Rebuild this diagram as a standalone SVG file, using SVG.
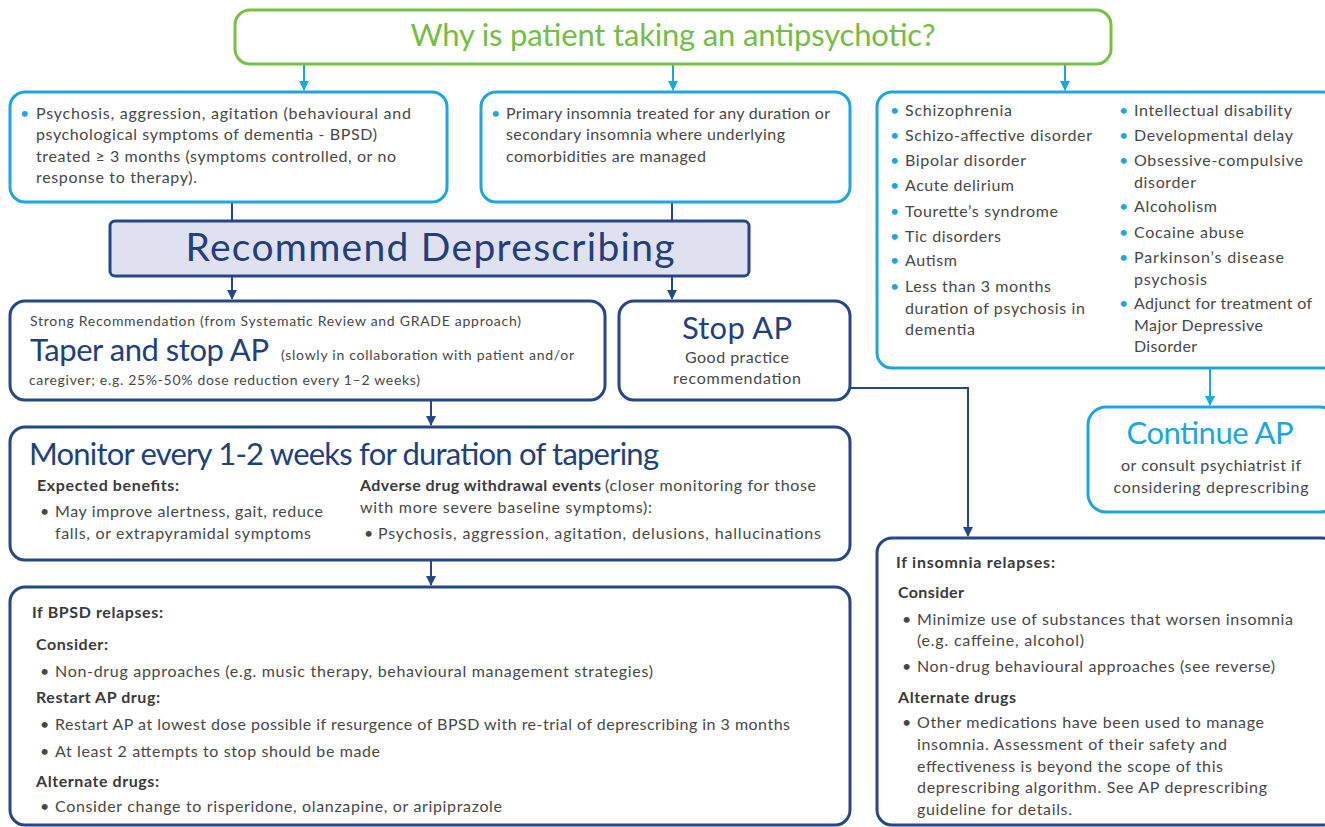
<svg xmlns="http://www.w3.org/2000/svg" width="1325" height="827" viewBox="0 0 1325 827">
<defs>
<marker id="ab" viewBox="0 0 10 10" refX="9" refY="5" markerWidth="10" markerHeight="10" markerUnits="userSpaceOnUse" orient="auto"><path d="M0,0 L10,5 L0,10 z" fill="#1ea5dc"/></marker>
<marker id="ad" viewBox="0 0 10 10" refX="9" refY="5" markerWidth="10" markerHeight="10" markerUnits="userSpaceOnUse" orient="auto"><path d="M0,0 L10,5 L0,10 z" fill="#264785"/></marker>
</defs>
<style>
text{font-family:Lato,"Liberation Sans",sans-serif;fill:#474747;font-size:16px}
.g{fill:none;stroke:#78c043;stroke-width:3}
.lb{fill:#fff;stroke:#1ea5dc;stroke-width:3}
.db{fill:#fff;stroke:#264785;stroke-width:3}
.rd{fill:#dfe1ef;stroke:#264785;stroke-width:3}
.cl{fill:none;stroke:#1ea5dc;stroke-width:2}
.cd{fill:none;stroke:#264785;stroke-width:2}
.bl{fill:#1ea5dc}
.h{fill:#223f7c}
.b{font-weight:bold;fill:#3a3a3a}
.s{font-size:14px}
</style>
<rect width="1325" height="827" fill="#fff"/>
<g id="connectors">
<path class="cl" d="M304,65 V90" marker-end="url(#ab)"/>
<path class="cl" d="M673,65 V90" marker-end="url(#ab)"/>
<path class="cl" d="M1065,65 V90" marker-end="url(#ab)"/>
<path class="cl" d="M1210,369 V405" marker-end="url(#ab)"/>
<path class="cd" d="M232,203 V221"/>
<path class="cd" d="M672,203 V221"/>
<path class="cd" d="M232,277 V299" marker-end="url(#ad)"/>
<path class="cd" d="M672,277 V299" marker-end="url(#ad)"/>
<path class="cd" d="M431,401 V425" marker-end="url(#ad)"/>
<path class="cd" d="M431,561 V585" marker-end="url(#ad)"/>
<path class="cd" d="M851,388 H968 V536" marker-end="url(#ad)"/>
</g>
<g id="question">
<rect class="g" x="235" y="10" width="876" height="54" rx="15"/>
<text x="673" y="46" text-anchor="middle" style="font-size:31px;fill:#74bd45" textLength="525">Why is patient taking an antipsychotic?</text>
</g>
<g id="bpsd-indication">
<rect class="lb" x="10" y="92" width="437" height="110" rx="15"/>
<text class="bl" x="20" y="119">•</text>
<text x="36" y="119" textLength="375">Psychosis, aggression, agitation (behavioural and</text>
<text x="36" y="140" textLength="341">psychological symptoms of dementia - BPSD)</text>
<text x="36" y="162" textLength="360">treated ≥ 3 months (symptoms controlled, or no</text>
<text x="36" y="183" textLength="161">response to therapy).</text>
</g>
<g id="insomnia-indication">
<rect class="lb" x="481" y="92" width="369" height="110" rx="15"/>
<text class="bl" x="491" y="119">•</text>
<text x="506" y="119" textLength="324">Primary insomnia treated for any duration or</text>
<text x="506" y="140" textLength="279">secondary insomnia where underlying</text>
<text x="506" y="162" textLength="200">comorbidities are managed</text>
</g>
<g id="other-indications">
<rect class="lb" x="877" y="92" width="460" height="276" rx="15"/>
<text class="bl" x="890" y="116">•</text><text class="bl" x="890" y="141">•</text><text class="bl" x="890" y="166">•</text><text class="bl" x="890" y="191">•</text><text class="bl" x="890" y="217">•</text><text class="bl" x="890" y="242">•</text><text class="bl" x="890" y="266">•</text><text class="bl" x="890" y="292">•</text>
<text class="bl" x="1119" y="116">•</text><text class="bl" x="1119" y="141">•</text><text class="bl" x="1119" y="166">•</text><text class="bl" x="1119" y="212">•</text><text class="bl" x="1119" y="238">•</text><text class="bl" x="1119" y="263">•</text><text class="bl" x="1119" y="309">•</text>
<text x="905" y="116" textLength="107">Schizophrenia</text>
<text x="905" y="141" textLength="187">Schizo-affective disorder</text>
<text x="905" y="166" textLength="121">Bipolar disorder</text>
<text x="905" y="191" textLength="109">Acute delirium</text>
<text x="905" y="217" textLength="153">Tourette’s syndrome</text>
<text x="905" y="242" textLength="96">Tic disorders</text>
<text x="905" y="266" textLength="52">Autism</text>
<text x="905" y="292" textLength="146">Less than 3 months</text>
<text x="905" y="314" textLength="180">duration of psychosis in</text>
<text x="905" y="335" textLength="70">dementia</text>
<text x="1134" y="116" textLength="158">Intellectual disability</text>
<text x="1134" y="141" textLength="159">Developmental delay</text>
<text x="1134" y="166" textLength="169">Obsessive-compulsive</text>
<text x="1134" y="188" textLength="62">disorder</text>
<text x="1134" y="212" textLength="83">Alcoholism</text>
<text x="1134" y="238" textLength="110">Cocaine abuse</text>
<text x="1134" y="263" textLength="150">Parkinson’s disease</text>
<text x="1134" y="285" textLength="73">psychosis</text>
<text x="1134" y="309" textLength="178">Adjunct for treatment of</text>
<text x="1134" y="331" textLength="129">Major Depressive</text>
<text x="1134" y="352" textLength="63">Disorder</text>
</g>
<g id="recommend">
<rect class="rd" x="110" y="221" width="639" height="55" rx="5"/>
<text class="h" x="430" y="261" text-anchor="middle" style="font-size:39px" textLength="489">Recommend Deprescribing</text>
</g>
<g id="continue-ap">
<rect class="lb" x="1088" y="407" width="250" height="105" rx="18"/>
<text x="1210" y="444" text-anchor="middle" style="font-size:31px;fill:#1ea5dc" textLength="167">Continue AP</text>
<text x="1211" y="471" text-anchor="middle" textLength="180">or consult psychiatrist if</text>
<text x="1211" y="493" text-anchor="middle" textLength="195">considering deprescribing</text>
</g>
<g id="taper">
<rect class="db" x="10" y="301" width="595" height="99" rx="15"/>
<text x="30" y="326" class="s" textLength="491">Strong Recommendation (from Systematic Review and GRADE approach)</text>
<text class="h" x="30" y="361" style="font-size:31px" textLength="239">Taper and stop AP</text>
<text x="281" y="360" class="s" textLength="293">(slowly in collaboration with patient and/or</text>
<text x="29" y="385" class="s" textLength="391">caregiver; e.g. 25%-50% dose reduction every 1–2 weeks)</text>
</g>
<g id="stop-ap">
<rect class="db" x="619" y="301" width="231" height="99" rx="15"/>
<text class="h" x="737" y="339" text-anchor="middle" style="font-size:31px" textLength="110">Stop AP</text>
<text x="737" y="363" text-anchor="middle" textLength="104">Good practice</text>
<text x="737" y="384" text-anchor="middle" textLength="128">recommendation</text>
</g>
<g id="monitor">
<rect class="db" x="10" y="427" width="840" height="133" rx="15"/>
<text class="h" x="29" y="465" style="font-size:31px" textLength="630">Monitor every 1-2 weeks for duration of tapering</text>
<text class="b" x="37" y="491" textLength="142">Expected benefits:</text>
<text x="40" y="517">•</text>
<text x="55" y="517" textLength="268">May improve alertness, gait, reduce</text>
<text x="55" y="539" textLength="256">falls, or extrapyramidal symptoms</text>
<text class="b" x="360" y="491" textLength="241">Adverse drug withdrawal events</text>
<text x="605" y="491" textLength="211">(closer monitoring for those</text>
<text x="360" y="513" textLength="292">with more severe baseline symptoms):</text>
<text x="364" y="539">•</text>
<text x="378" y="539" textLength="443">Psychosis, aggression, agitation, delusions, hallucinations</text>
</g>
<g id="bpsd-relapse">
<rect class="db" x="10" y="587" width="840" height="238" rx="15"/>
<text class="b" x="32" y="618" textLength="131">If BPSD relapses:</text>
<text class="b" x="36" y="650" textLength="72">Consider:</text>
<text x="40" y="677">•</text>
<text x="55" y="677" textLength="598">Non-drug approaches (e.g. music therapy, behavioural management strategies)</text>
<text class="b" x="36" y="703" textLength="124">Restart AP drug:</text>
<text x="40" y="730">•</text>
<text x="55" y="730" textLength="735">Restart AP at lowest dose possible if resurgence of BPSD with re-trial of deprescribing in 3 months</text>
<text x="40" y="757">•</text>
<text x="55" y="757" textLength="325">At least 2 attempts to stop should be made</text>
<text class="b" x="36" y="787" textLength="123">Alternate drugs:</text>
<text x="40" y="812">•</text>
<text x="55" y="812" textLength="447">Consider change to risperidone, olanzapine, or aripiprazole</text>
</g>
<g id="insomnia-relapse">
<rect class="db" x="877" y="538" width="460" height="287" rx="15"/>
<text class="b" x="896" y="568" textLength="159">If insomnia relapses:</text>
<text class="b" x="898" y="598" textLength="66">Consider</text>
<text x="902" y="625">•</text>
<text x="917" y="625" textLength="376">Minimize use of substances that worsen insomnia</text>
<text x="917" y="646" textLength="167">(e.g. caffeine, alcohol)</text>
<text x="902" y="672">•</text>
<text x="917" y="672" textLength="358">Non-drug behavioural approaches (see reverse)</text>
<text class="b" x="898" y="703" textLength="118">Alternate drugs</text>
<text x="902" y="728">•</text>
<text x="917" y="728" textLength="347">Other medications have been used to manage</text>
<text x="917" y="750" textLength="310">insomnia. Assessment of their safety and</text>
<text x="917" y="772" textLength="306">effectiveness is beyond the scope of this</text>
<text x="917" y="793" textLength="350">deprescribing algorithm. See AP deprescribing</text>
<text x="917" y="815" textLength="155">guideline for details.</text>
</g>
</svg>
